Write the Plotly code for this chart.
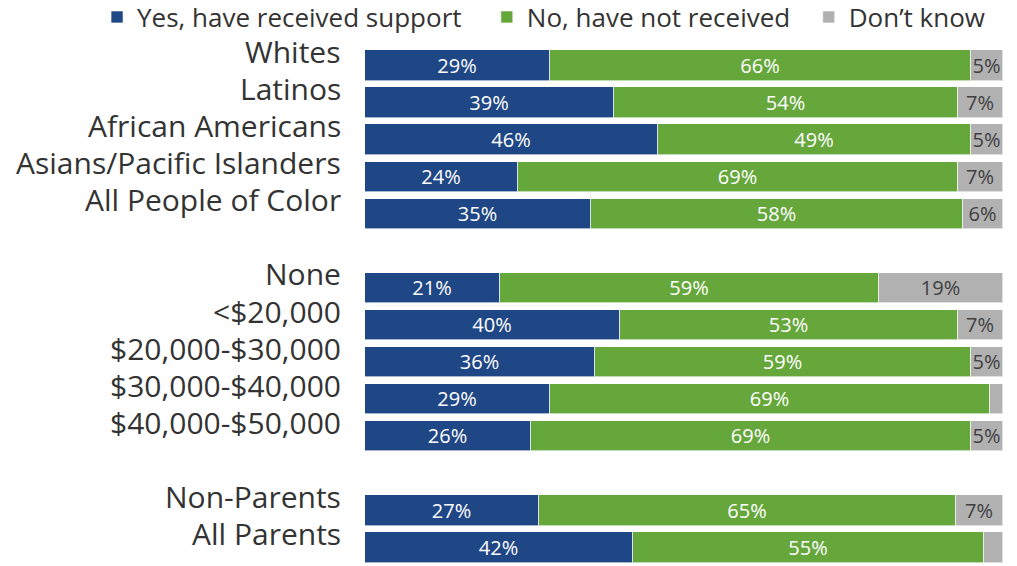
import plotly.graph_objects as go

# groups of rows (top to bottom), a blank slot between groups
race = ["Whites", "Latinos", "African Americans", "Asians/Pacific Islanders", "All People of Color"]
income = ["None", "<$20,000", "$20,000-$30,000", "$30,000-$40,000", "$40,000-$50,000"]
parents = ["Non-Parents", "All Parents"]

yes_vals = [29, 39, 46, 24, 35.4, 21.2, 40, 36, 29, 26, 27.3, 42]
no_vals = [66, 54, 49, 69, 58.4, 59.4, 53, 59, 69, 69, 65.4, 55]
dk_vals = [5, 7, 5, 7, 6.2, 19.4, 7, 5, 2, 5, 7.3, 3]

NB = "\u00a0"
series = [
    ("Yes, have received support" + NB * 3, yes_vals, "#1f4685", "white"),
    ("No, have not received" + NB * 2, no_vals, "#66a73c", "white"),
    ("Don\u2019t know", dk_vals, "#b1b1b2", "#404040"),
]

labels = []
ypos = []
slot = 0
for grp in [race, income, parents]:
    for name in grp:
        labels.append(name)
        ypos.append(slot)
        slot += 1
    slot += 1
last = ypos[-1]

fig = go.Figure()
for name, vals, color, tcolor in series:
    fig.add_trace(go.Bar(
        y=ypos, x=vals, name=name, orientation="h",
        marker=dict(color=color, line=dict(color="rgba(255,255,255,0.6)", width=1)),
        width=0.82,
        text=[f"{round(v)}%" if v >= 4 else "" for v in vals],
        textposition="inside", insidetextanchor="middle",
        constraintext="none",
        textfont=dict(color=tcolor, size=20, family="Open Sans"),
        hoverinfo="skip",
    ))

for lab, y in zip(labels, ypos):
    fig.add_annotation(
        x=0, xref="paper", y=y, yref="y", text=lab, showarrow=False,
        xanchor="right", yanchor="middle", xshift=-22, yshift=14,
        font=dict(size=30, color="#333333", family="Open Sans"),
    )

fig.update_layout(
    width=1017, height=566,
    margin=dict(l=357, r=22, t=39, b=8, autoexpand=False),
    barmode="stack",
    bargap=0,
    plot_bgcolor="white", paper_bgcolor="white",
    font=dict(family="Open Sans", color="#333333"),
    showlegend=True,
    legend=dict(
        orientation="h", xref="paper", yref="paper",
        x=-0.42, y=1.103, xanchor="left", yanchor="top",
        font=dict(size=26, color="#333333"),
        traceorder="normal", itemclick=False,
    ),
    xaxis=dict(range=[0, 100], visible=False, fixedrange=True),
    yaxis=dict(range=[last + 0.5, -0.5], visible=False, fixedrange=True),
)

fig.write_html("out.html")
